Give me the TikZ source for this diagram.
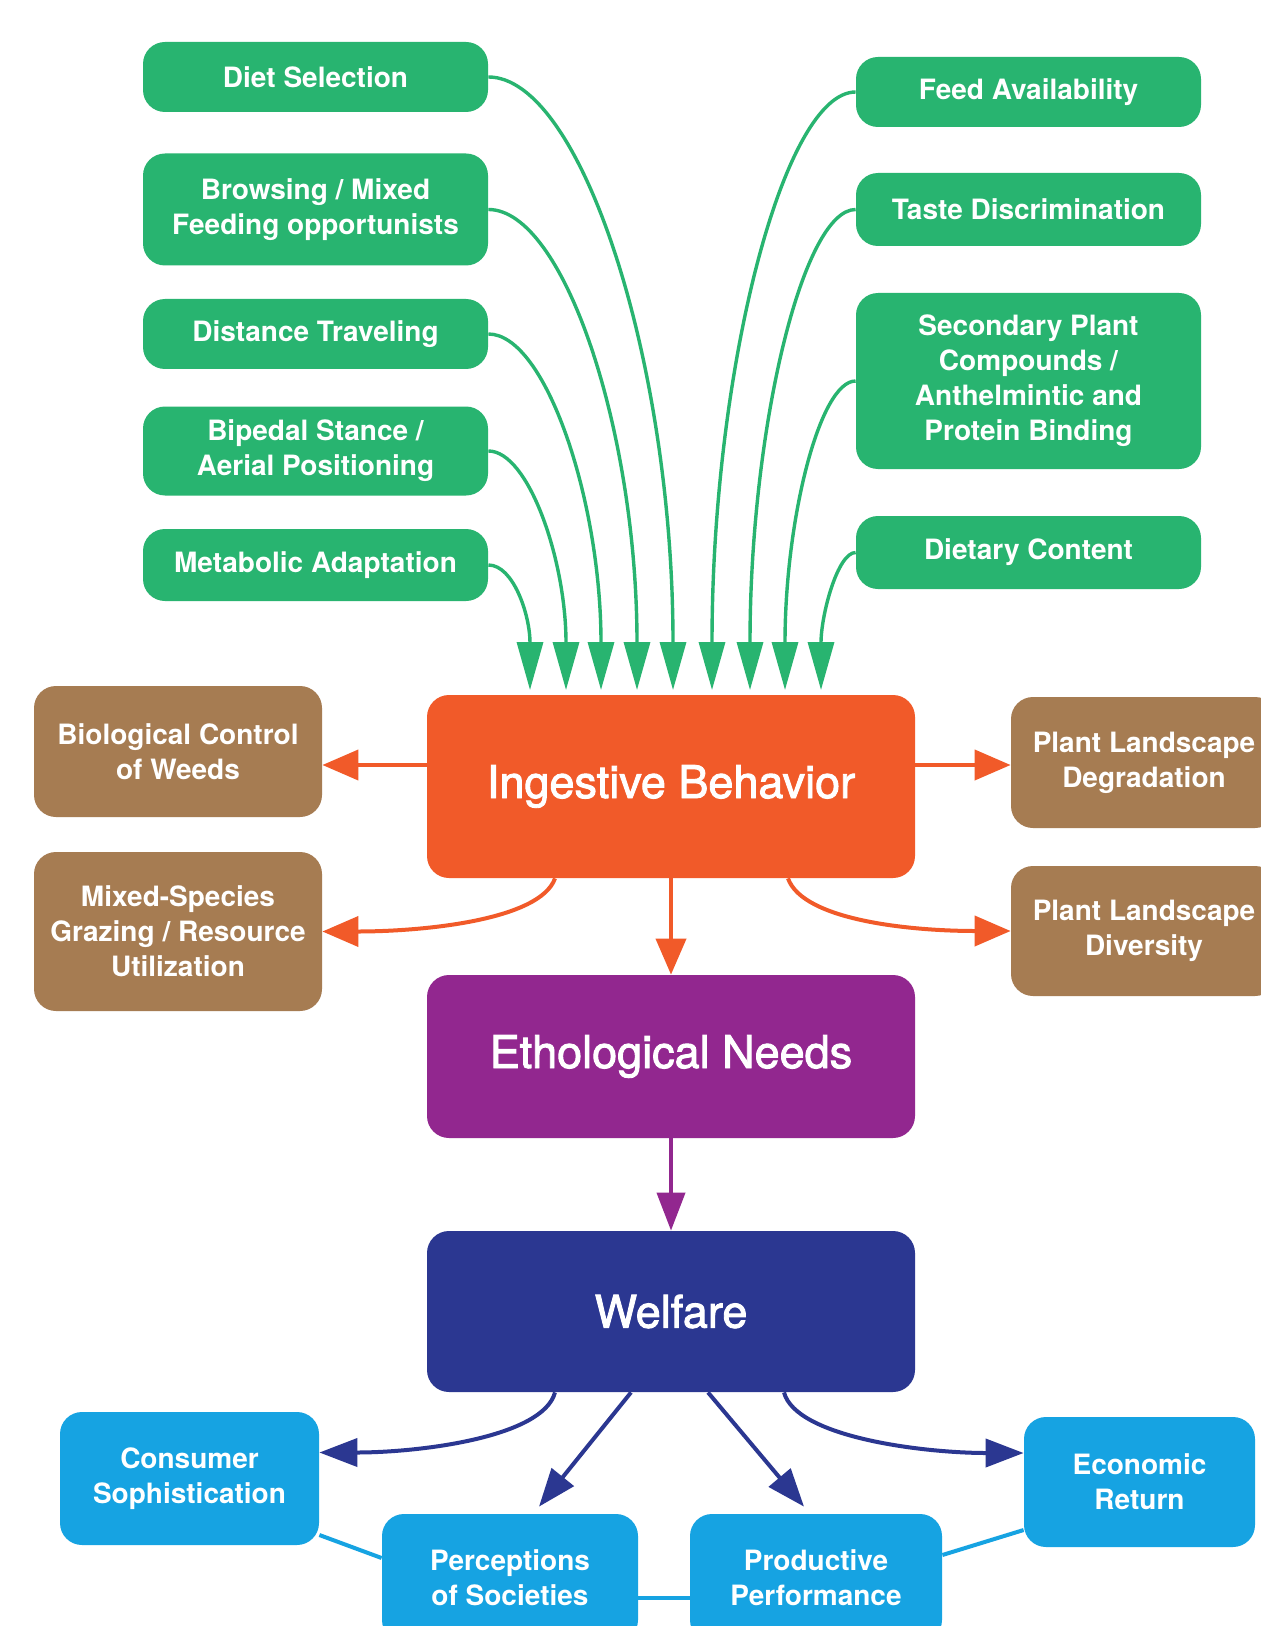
\documentclass[tikz,border=0pt]{standalone}
\usepackage{fontspec}
\setmainfont{TeX Gyre Heros}
\newfontfamily\bigfont{TeX Gyre Heros}[FakeBold=2]
\usetikzlibrary{arrows.meta,calc}
\definecolor{gr}{RGB}{40,180,112}
\definecolor{orng}{RGB}{241,90,41}
\definecolor{brwn}{RGB}{166,124,82}
\definecolor{purp}{RGB}{146,39,143}
\definecolor{dblue}{RGB}{43,55,145}
\definecolor{lblue}{RGB}{22,163,226}
\begin{document}
\begin{tikzpicture}[x=0.5pt,y=-0.5pt,
  box/.style={rounded corners=11pt, align=center, text=white, inner sep=0pt,
    font=\bfseries\fontsize{14pt}{17.5pt}\selectfont},
  gbox/.style={box, fill=gr, minimum width=172.5pt},
  bbox/.style={box, fill=brwn},
  lbox/.style={box, fill=lblue},
  bigbox/.style={box, minimum width=244pt, font=\bigfont\fontsize{22.5pt}{27pt}\selectfont},
  garr/.style={draw=gr, line width=1.7pt, -{Triangle[width=13pt,length=24pt]}},
  oarr/.style={draw=orng, line width=2pt, -{Triangle[width=15pt,length=18pt]}},
  parr/.style={draw=purp, line width=2pt, -{Triangle[width=14pt,length=19pt]}},
  darr/.style={draw=dblue, line width=2pt, -{Triangle[width=14pt,length=19pt]}},
  lline/.style={draw=lblue, line width=2pt}
]
\clip (0,0) rectangle (1261,1626);
\fill[white] (0,0) rectangle (1261,1626);

% green left
\node[gbox, minimum height=35pt] (diet) at (315.5,77) {Diet Selection};
\node[gbox, minimum height=56pt] (brow) at (315.5,209.5) {Browsing / Mixed\\Feeding opportunists};
\node[gbox, minimum height=35pt] (dist) at (315.5,334) {Distance Traveling};
\node[gbox, minimum height=44.5pt] (biped) at (315.5,451) {Bipedal Stance /\\Aerial Positioning};
\node[gbox, minimum height=36pt] (meta) at (315.5,565) {Metabolic Adaptation};
% green right
\node[gbox, minimum height=35pt] (feed) at (1028.5,92) {Feed Availability};
\node[gbox, minimum height=36.5pt] (taste) at (1028.5,209.5) {Taste Discrimination};
\node[gbox, minimum height=88pt] (sec) at (1028.5,381) {Secondary Plant\\Compounds /\\Anthelmintic and\\Protein Binding};
\node[gbox, minimum height=36.5pt] (dietc) at (1028.5,552.5) {Dietary Content};

% big boxes
\node[bigbox, fill=orng, minimum height=91.5pt] (ing) at (671,786.5) {Ingestive Behavior};
\node[bigbox, fill=purp, minimum height=81.5pt] (eth) at (671,1056.5) {Ethological Needs};
\node[bigbox, fill=dblue, minimum height=80.5pt] (wel) at (671,1311.5) {Welfare};

% brown boxes
\node[bbox, minimum width=144pt, minimum height=65.5pt] (bio) at (178,751.5) {Biological Control\\of Weeds};
\node[bbox, minimum width=144pt, minimum height=79.5pt] (mix) at (178,931.5) {Mixed-Species\\Grazing / Resource\\Utilization};
\node[bbox, minimum width=133pt, minimum height=65.5pt] (deg) at (1144,762.5) {Plant Landscape\\Degradation};
\node[bbox, minimum width=133pt, minimum height=65pt] (div) at (1144,931) {Plant Landscape\\Diversity};

% blue boxes
\node[lbox, minimum width=129.5pt, minimum height=66.5pt] (cons) at (189.5,1478.5) {Consumer\\Sophistication};
\node[lbox, minimum width=128pt, minimum height=64pt] (perc) at (510,1578) {Perceptions\\of Societies};
\node[lbox, minimum width=126pt, minimum height=64pt] (prod) at (816,1578) {Productive\\Performance};
\node[lbox, minimum width=115.5pt, minimum height=65pt] (econ) at (1139.5,1482) {Economic\\Return};

% arrow tip coordinates
\coordinate (t1) at (530,690);
\coordinate (t2) at (566,690);
\coordinate (t3) at (601,690);
\coordinate (t4) at (637,690);
\coordinate (t5) at (673,690);
\coordinate (t6) at (712,690);
\coordinate (t7) at (750,690);
\coordinate (t8) at (785,690);
\coordinate (t9) at (821,690);

% green connectors
\draw[garr] (meta.east) .. controls +(25,0) and +(0,-75) .. (t1);
\draw[garr] (biped.east) .. controls +(40,0) and +(0,-130) .. (t2);
\draw[garr] (dist.east) .. controls +(57,0) and +(0,-190) .. (t3);
\draw[garr] (brow.east) .. controls +(75,0) and +(0,-260) .. (t4);
\draw[garr] (diet.east) .. controls +(92,0) and +(0,-330) .. (t5);
\draw[garr] (feed.west) .. controls +(-72,0) and +(0,-320) .. (t6);
\draw[garr] (taste.west) .. controls +(-53,0) and +(0,-260) .. (t7);
\draw[garr] (sec.west) .. controls +(-36,0) and +(0,-170) .. (t8);
\draw[garr] (dietc.west) .. controls +(-18,0) and +(0,-75) .. (t9);

% orange connectors
\path ([yshift=10.75pt]ing.west) coordinate (ingL);
\draw[oarr] (ingL) -- (ingL -| bio.east);
\draw[oarr] (ingL -| ing.east) -- (ingL -| deg.west);
\draw[oarr] ([xshift=-58pt]ing.south) .. controls +(-15,42) and +(100,0) .. (mix.east);
\draw[oarr] ([xshift=58.5pt]ing.south) .. controls +(15,42) and +(-100,0) .. (div.west);
\draw[oarr] (ing.south) -- (eth.north);

% purple
\draw[parr] (eth.south) -- (wel.north);

% welfare arrows
\draw[darr] ([xshift=-58pt]wel.south) .. controls +(-12,45) and +(100,0) .. ([yshift=13pt]cons.east);
\draw[darr] ([xshift=56.5pt]wel.south) .. controls +(12,45) and +(-100,0) .. ([yshift=14.5pt]econ.west);
\draw[darr] ([xshift=-20pt]wel.south) -- ([xshift=14.5pt,yshift=3.5pt]perc.north);
\draw[darr] ([xshift=18.5pt]wel.south) -- ([xshift=-6pt,yshift=3.5pt]prod.north);

% light blue links
\draw[lline] ([yshift=-28.25pt]cons.east) -- ([yshift=10pt]perc.west);
\draw[lline] ([yshift=-10pt]perc.east) -- ([yshift=-10pt]prod.west);
\draw[lline] ([yshift=11.5pt]prod.east) -- ([yshift=-24pt]econ.west);
\end{tikzpicture}
\end{document}
